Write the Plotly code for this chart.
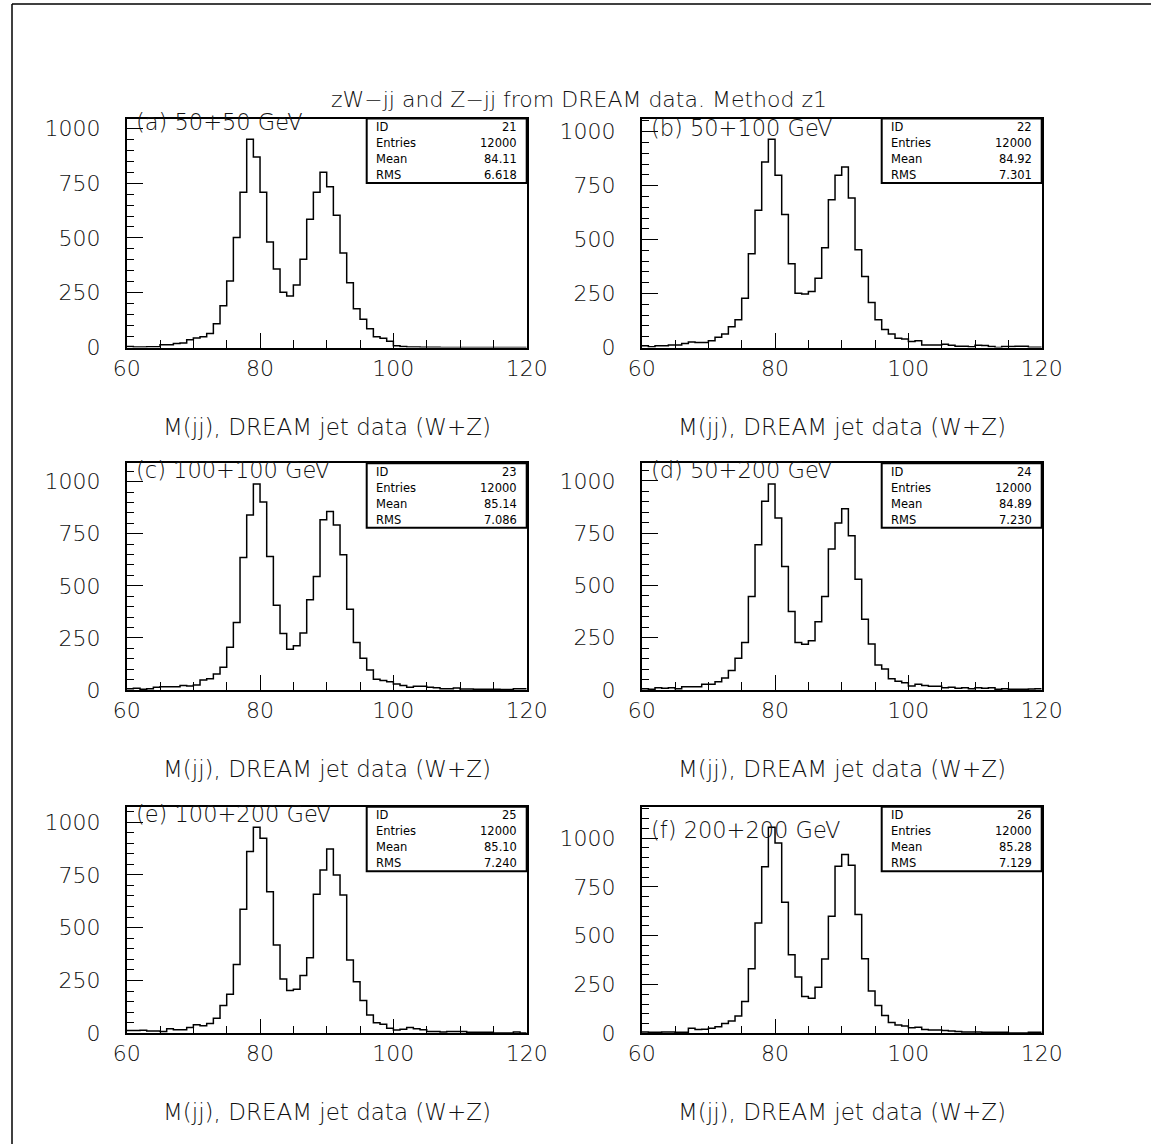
import plotly.graph_objects as go

W, H = 1151, 1144

# ---------------- data ----------------
bin_lo = list(range(60, 120))          # lower edges of 1 GeV bins, 60..119
x_tickvals = [60, 80, 100, 120]
y_tickvals = [0, 250, 500, 750, 1000]

title_text = "zW\u2212jj and Z\u2212jj from DREAM data. Method z1"
x_label = "M(jj), DREAM jet data (W+Z)"

panel_labels = ["(a) 50+50 GeV", "(b) 50+100 GeV", "(c) 100+100 GeV",
                "(d) 50+200 GeV", "(e) 100+200 GeV", "(f) 200+200 GeV"]
hist_ids = ["21", "22", "23", "24", "25", "26"]
hist_entries = ["12000", "12000", "12000", "12000", "12000", "12000"]
hist_means = ["84.11", "84.92", "85.14", "84.89", "85.10", "85.28"]
hist_rms = ["6.618", "7.301", "7.086", "7.230", "7.240", "7.129"]

counts_a = [5, 2, 2, 3, 3, 12, 13, 18, 20, 35, 43, 49, 64, 108, 191, 303, 502, 708, 950, 869,
            708, 482, 358, 252, 235, 285, 403, 585, 708, 800, 734, 603, 431, 295, 177, 129, 85, 49, 42, 28,
            8, 5, 2, 2, 1, 1, 1, 0, 0, 0, 0, 0, 0, 0, 0, 0, 0, 0, 0, 0]
counts_b = [8, 3, 8, 8, 12, 12, 19, 26, 23, 23, 31, 47, 62, 96, 129, 228, 434, 636, 860, 965,
            798, 617, 388, 251, 248, 260, 321, 462, 685, 798, 837, 693, 453, 329, 209, 129, 84, 62, 43, 39,
            28, 31, 12, 12, 12, 15, 11, 6, 6, 3, 11, 9, 5, 0, 5, 5, 6, 6, 1, 1]
counts_c = [6, 8, 3, 6, 13, 16, 16, 16, 22, 19, 24, 48, 54, 77, 109, 205, 324, 636, 840, 989,
            902, 641, 407, 271, 196, 212, 274, 433, 545, 817, 856, 792, 649, 388, 228, 152, 96, 51, 45, 40,
            29, 22, 13, 18, 18, 13, 11, 6, 6, 10, 5, 5, 3, 3, 3, 3, 2, 2, 6, 6]
counts_d = [6, 3, 11, 8, 11, 6, 16, 16, 16, 27, 27, 40, 58, 93, 152, 227, 447, 695, 903, 986,
            823, 591, 375, 227, 219, 236, 326, 447, 674, 799, 867, 738, 530, 339, 220, 120, 101, 54, 42, 35,
            19, 27, 22, 18, 18, 11, 13, 8, 11, 6, 11, 8, 11, 3, 6, 3, 3, 3, 5, 6]
counts_e = [13, 13, 14, 11, 11, 8, 21, 17, 17, 27, 41, 36, 46, 71, 131, 185, 326, 587, 860, 975,
            923, 670, 418, 257, 202, 208, 273, 358, 658, 773, 872, 749, 655, 347, 244, 155, 87, 50, 43, 24,
            16, 19, 27, 22, 17, 8, 8, 6, 8, 8, 8, 5, 5, 5, 5, 2, 2, 2, 6, 2]
counts_f = [7, 5, 5, 7, 7, 5, 5, 26, 19, 21, 26, 33, 50, 63, 89, 163, 330, 565, 853, 1055,
            975, 671, 402, 288, 188, 180, 236, 380, 599, 856, 916, 861, 608, 382, 217, 142, 91, 55, 43, 38,
            29, 31, 19, 17, 17, 14, 12, 9, 7, 7, 7, 5, 5, 5, 5, 2, 2, 2, 5, 5]

all_counts = [counts_a, counts_b, counts_c, counts_d, counts_e, counts_f]

# ---------------- layout geometry (pixels) ----------------
col_left = [126.7, 641.7]
col_w = 400.0
row_top = [118.5, 463.3, 806.7]
row_bot = [347.5, 690.0, 1033.3]
label_dy = [3, 9, 7, 7, 7, 23]      # vertical offset of panel label centre below frame top
box_w, box_h = 160.0, 64.5

FONT = "DejaVu Sans"
TXT = "#111111"
LIGHT = 200


def px(x):
    return x / W


def py(y):
    return 1 - y / H


fig = go.Figure()
shapes = []
annotations = []
layout_axes = {}

for i, counts in enumerate(all_counts):
    r, c = divmod(i, 2)
    left, top, bot = col_left[c], row_top[r], row_bot[r]
    n = i + 1
    xa = "x" if n == 1 else f"x{n}"
    ya = "y" if n == 1 else f"y{n}"
    xkey = "xaxis" if n == 1 else f"xaxis{n}"
    ykey = "yaxis" if n == 1 else f"yaxis{n}"

    fig.add_trace(go.Scatter(
        x=bin_lo + [120], y=counts + [counts[-1]],
        mode="lines", line=dict(shape="hv", color="black", width=1.5),
        xaxis=xa, yaxis=ya, showlegend=False, hoverinfo="x+y"))

    ymax = 1.1 * max(counts)
    layout_axes[xkey] = dict(
        domain=[px(left), px(left + col_w)], anchor=ya, range=[60, 120], automargin=False,
        tickvals=x_tickvals, ticks="inside", ticklen=15, tickwidth=1.2, tickcolor="black",
        minor=dict(dtick=5, tick0=60, ticks="inside", ticklen=8, tickwidth=1.2, tickcolor="black"),
        showline=True, mirror=True, linecolor="black", linewidth=1.5,
        showgrid=False, zeroline=False,
        tickfont=dict(family=FONT, size=22, color=TXT, weight=LIGHT), ticklabelstandoff=0)
    layout_axes[ykey] = dict(
        domain=[py(bot), py(top)], anchor=xa, range=[0, ymax], automargin=False,
        tickvals=y_tickvals, ticks="inside", ticklen=17, tickwidth=1.2, tickcolor="black",
        minor=dict(dtick=50, tick0=0, ticks="inside", ticklen=8, tickwidth=1.2, tickcolor="black"),
        showline=True, mirror=True, linecolor="black", linewidth=1.5,
        showgrid=False, zeroline=False,
        tickfont=dict(family=FONT, size=22, color=TXT, weight=LIGHT), ticklabelstandoff=20)

    # statistics box
    bx0, bx1 = left + col_w - box_w, left + col_w
    shapes.append(dict(type="rect", xref="paper", yref="paper",
                       x0=px(bx0), x1=px(bx1), y0=py(top + box_h), y1=py(top),
                       line=dict(color="black", width=2), fillcolor="white", layer="above"))
    rows = [("ID", hist_ids[i]), ("Entries", hist_entries[i]),
            ("Mean", hist_means[i]), ("RMS", hist_rms[i])]
    for k, (lab, val) in enumerate(rows):
        yy = top + 8.5 + 16.0 * k
        annotations.append(dict(text=lab, x=px(bx0 + 7), y=py(yy), xref="paper", yref="paper",
                                xanchor="left", yanchor="middle", showarrow=False,
                                font=dict(family=FONT, size=11.5, color="black")))
        annotations.append(dict(text=val, x=px(bx1 - 8), y=py(yy), xref="paper", yref="paper",
                                xanchor="right", yanchor="middle", showarrow=False,
                                font=dict(family=FONT, size=11.5, color="black")))

    # panel label
    annotations.append(dict(text=panel_labels[i], x=px(left + 7), y=py(top + label_dy[i]),
                            xref="paper", yref="paper", xanchor="left", yanchor="middle",
                            showarrow=False, font=dict(family=FONT, size=22.5, color=TXT, weight=LIGHT)))
    # x axis label
    annotations.append(dict(text=x_label, x=px(left + col_w / 2), y=py(bot + 79),
                            xref="paper", yref="paper", xanchor="center", yanchor="middle",
                            showarrow=False, font=dict(family=FONT, size=23, color=TXT, weight=LIGHT)))

# global title
annotations.append(dict(text=title_text, x=px(579), y=py(99), xref="paper", yref="paper",
                        xanchor="center", yanchor="middle", showarrow=False,
                        font=dict(family=FONT, size=22, color=TXT, weight=LIGHT)))

# outer page frame (top and left edges visible)
shapes.append(dict(type="line", xref="paper", yref="paper", x0=px(12), x1=px(W + 5),
                   y0=py(4), y1=py(4), line=dict(color="black", width=1.5)))
shapes.append(dict(type="line", xref="paper", yref="paper", x0=px(12), x1=px(12),
                   y0=py(4), y1=py(H + 5), line=dict(color="black", width=1.5)))

fig.update_layout(
    width=W, height=H, margin=dict(l=0, r=0, t=0, b=0, pad=0, autoexpand=False),
    paper_bgcolor="white", plot_bgcolor="white",
    font=dict(family=FONT, color=TXT),
    shapes=shapes, annotations=annotations, showlegend=False,
    **layout_axes)

fig.write_html("out.html", config={"responsive": False, "displayModeBar": False},
               post_script="document.body.style.margin='0';document.body.style.overflow='hidden';")
